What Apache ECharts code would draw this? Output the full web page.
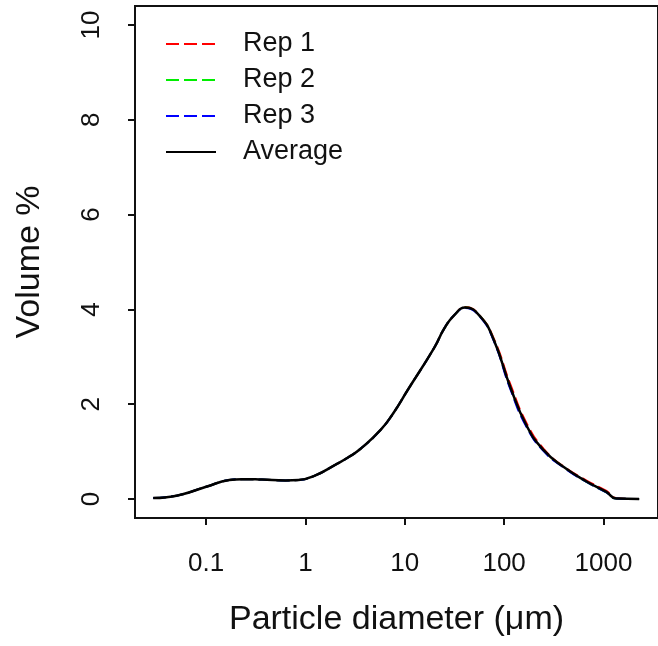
<!DOCTYPE html>
<html>
<head>
<meta charset="utf-8">
<script src="https://cdn.jsdelivr.net/npm/echarts@6/dist/echarts.min.js"></script>
<style>
  html, body { margin: 0; padding: 0; background: #fff; }
  #chart { width: 658px; height: 646px; }
</style>
</head>
<body>
<div id="chart"></div>
<script>
// particle diameters (um)
const diameters = [0.0293, 0.04, 0.058, 0.1, 0.171, 0.23, 0.365, 0.63, 0.855, 1.26, 1.99, 2.7, 3.64, 5.77, 7.6, 10.7, 19.9, 25, 31.5, 40.7, 57.5, 78.9, 115, 170, 250, 395, 675, 1070, 1346, 2285];

// volume % per replicate and the average
const rep1 = [0.02, 0.04, 0.10, 0.26, 0.40, 0.42, 0.41, 0.39, 0.40, 0.50, 0.72, 0.88, 1.07, 1.47, 1.80, 2.30, 3.20, 3.60, 3.88, 4.05, 3.86, 3.38, 2.43, 1.58, 1.06, 0.69, 0.39, 0.17, 0.02, 0.00];
const rep2 = [0.02, 0.04, 0.10, 0.26, 0.40, 0.42, 0.41, 0.39, 0.40, 0.50, 0.72, 0.88, 1.07, 1.47, 1.80, 2.30, 3.20, 3.60, 3.88, 4.04, 3.85, 3.35, 2.36, 1.52, 1.02, 0.68, 0.36, 0.14, 0.01, 0.00];
const rep3 = [0.02, 0.04, 0.10, 0.26, 0.40, 0.42, 0.41, 0.39, 0.40, 0.50, 0.72, 0.88, 1.07, 1.47, 1.80, 2.30, 3.20, 3.60, 3.88, 4.03, 3.84, 3.33, 2.33, 1.50, 1.01, 0.67, 0.36, 0.14, 0.01, 0.00];
const average = [0.02, 0.04, 0.10, 0.26, 0.40, 0.42, 0.41, 0.39, 0.40, 0.50, 0.72, 0.88, 1.07, 1.47, 1.80, 2.30, 3.20, 3.60, 3.88, 4.04, 3.85, 3.35, 2.37, 1.53, 1.03, 0.68, 0.37, 0.15, 0.01, 0.00];

const xTicks = [0.1, 1, 10, 100, 1000];
const xTickLabels = ['0.1', '1', '10', '100', '1000'];
const yTicks = [0, 2, 4, 6, 8, 10];

const font = "'Liberation Sans', Arial, Helvetica, sans-serif";

const pairs = ys => diameters.map((d, i) => [d, ys[i]]);

const chart = echarts.init(document.getElementById('chart'), null, { renderer: 'canvas' });

const makeSeries = (name, ys, color, dashed, width) => ({
  name: name,
  type: 'line',
  data: pairs(ys),
  symbol: 'none',
  smooth: 0.5,
  lineStyle: {
    color: color,
    width: width,
    type: dashed ? [13, 5] : 'solid'
  },
  itemStyle: { color: color },
  emphasis: { disabled: true }
});

chart.setOption({
  animation: false,
  backgroundColor: '#fff',
  textStyle: { fontFamily: font },
  grid: {
    left: 135,
    top: 6,
    right: -4,
    bottom: 128,
    show: true,
    borderColor: '#111',
    borderWidth: 2,
    backgroundColor: 'transparent'
  },
  legend: {
    orient: 'vertical',
    left: 160,
    top: 24,
    itemWidth: 50,
    itemHeight: 20,
    itemGap: 6,
    data: ['Rep 1', 'Rep 2', 'Rep 3', 'Average'],
    itemStyle: { color: 'rgba(0,0,0,0)', borderWidth: 0, opacity: 0 },
    textStyle: {
      fontFamily: font,
      fontSize: 27,
      color: '#111',
      lineHeight: 30,
      padding: [0, 0, 0, 22]
    }
  },
  xAxis: {
    type: 'log',
    min: 0.01923,
    max: 3540,
    name: 'Particle diameter (μm)',
    nameLocation: 'middle',
    nameGap: 85,
    nameTextStyle: { fontFamily: font, fontSize: 34, color: '#111' },
    axisLine: { show: false, onZero: false },
    splitLine: { show: false },
    minorTick: { show: false },
    axisTick: {
      show: true,
      customValues: xTicks,
      length: 7,
      lineStyle: { color: '#111', width: 2 }
    },
    axisLabel: {
      customValues: xTicks,
      margin: 33,
      fontSize: 26,
      color: '#111',
      fontFamily: font,
      formatter: v => {
        const i = xTicks.findIndex(t => Math.abs(Math.log10(t) - Math.log10(v)) < 1e-6);
        return i >= 0 ? xTickLabels[i] : '';
      }
    }
  },
  yAxis: {
    type: 'value',
    min: -0.4,
    max: 10.4,
    name: 'Volume %',
    nameLocation: 'middle',
    nameGap: 88,
    nameRotate: 90,
    nameTextStyle: { fontFamily: font, fontSize: 34, color: '#111' },
    axisLine: { show: false, onZero: false },
    splitLine: { show: false },
    axisTick: {
      show: true,
      customValues: yTicks,
      length: 7,
      lineStyle: { color: '#111', width: 2 }
    },
    axisLabel: {
      customValues: yTicks,
      rotate: 90,
      margin: 30,
      fontSize: 26,
      color: '#111',
      fontFamily: font
    }
  },
  series: [
    makeSeries('Rep 1', rep1, '#ff0000', true, 2),
    makeSeries('Rep 2', rep2, '#00ee00', true, 2),
    makeSeries('Rep 3', rep3, '#0000ff', true, 2),
    makeSeries('Average', average, '#000000', false, 2.5)
  ]
});
</script>
</body>
</html>
